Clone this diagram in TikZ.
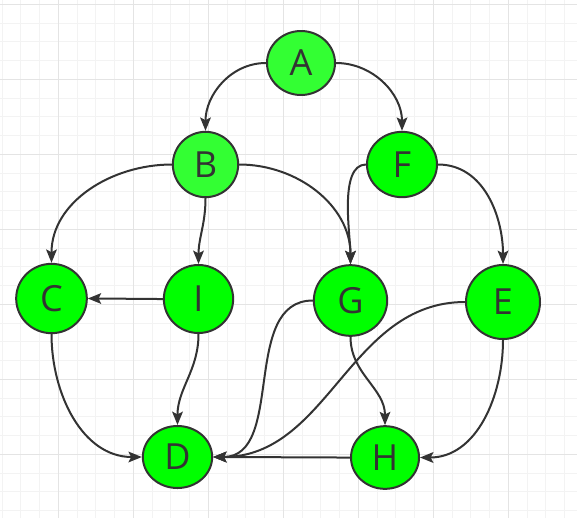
\documentclass[tikz,border=0pt]{standalone}
\usepackage{fontspec}
\setmainfont{Open Sans}
\usetikzlibrary{positioning,shapes.geometric,arrows.meta}
\definecolor{NodeGreen}{RGB}{0,255,0}
\definecolor{PaleGreen}{RGB}{51,255,51}
\definecolor{InkGray}{RGB}{51,51,51}
\definecolor{GridMinor}{RGB}{243,243,243}
\definecolor{GridMajor}{RGB}{228,228,228}
\tikzset{
	v/.style={ellipse,draw=InkGray,line width=1.5pt,fill=NodeGreen,inner sep=0pt,
		text=InkGray,font=\fontsize{27}{30}\selectfont},
	edge/.style={draw=InkGray,line width=1.5pt,-{Stealth[length=10pt,width=8pt,inset=2pt]}},
	minor/.style={draw=GridMinor,line width=0.75pt},
	major/.style={draw=GridMajor,line width=0.75pt},
}

\begin{document}
\begin{tikzpicture}[x=0.75pt,y=-0.75pt]
	\useasboundingbox (0,0) rectangle (577,518);
	% grid
	\foreach \k in {0,...,30}
	\draw[minor] ({2.05+18.75*\k},0) -- ({2.05+18.75*\k},518);
	\foreach \k in {0,...,27}
	\draw[minor] (0,{4.3+18.75*\k}) -- (577,{4.3+18.75*\k});
	\foreach \k in {0,...,6}
	\draw[major] ({58.3+75*\k},0) -- ({58.3+75*\k},518);
	\foreach \k in {0,...,6}
	\draw[major] (0,{4.3+75*\k}) -- (577,{4.3+75*\k});
	% vertices
	\node[v,fill=PaleGreen,minimum width=51pt,minimum height=48pt] (A) at (301,63) {A};
	\node[v,fill=PaleGreen,minimum width=49pt,minimum height=49pt] (B) at (205.5,164.5) {B};
	\node[v,minimum width=52.5pt,minimum height=49pt] (F) at (402,164.5) {F};
	\node[v,minimum width=53pt,minimum height=52pt] (C) at (51.5,298.5) {C};
	\node[v,minimum width=52pt,minimum height=51pt] (I) at (198.5,299) {I};
	\node[v,minimum width=55pt,minimum height=53pt] (G) at (350.5,300.5) {G};
	\node[v,minimum width=55.5pt,minimum height=55.5pt] (E) at (503,302) {E};
	\node[v,minimum width=52pt,minimum height=46.5pt] (D) at (177.5,457) {D};
	\node[v,minimum width=51pt,minimum height=47pt] (H) at (385,457.5) {H};
	% arcs
	\draw[edge] (A.west) to[out=180,in=90] (B.north);
	\draw[edge] (A.east) to[out=0,in=90] (F.north);
	\draw[edge] (B.west) to[out=180,in=90] (C.north);
	\draw[edge] (B.south) to[out=-90,in=90] (I.north);
	\draw[edge] (B.east) to[out=0,in=90] (G.north);
	\draw[edge] (F.west) to[out=180,in=90,looseness=0.7] (G.north);
	\draw[edge] (F.east) to[out=0,in=90] (E.north);
	\draw[edge] (I.west) to[out=180,in=0] (C.east);
	\draw[edge] (I.south) to[out=-90,in=90] (D.north);
	\draw[edge] (C.south) to[out=-90,in=180] (D.west);
	\draw[edge] (G.west) to[out=180,in=0] (D.east);
	\draw[edge] (E.west) to[out=180,in=0] (D.east);
	\draw[edge] (H.west) to[out=180,in=0] (D.east);
	\draw[edge] (G.south) to[out=-90,in=90] (H.north);
	\draw[edge] (E.south) to[out=-90,in=0] (H.east);
\end{tikzpicture}
\end{document}
